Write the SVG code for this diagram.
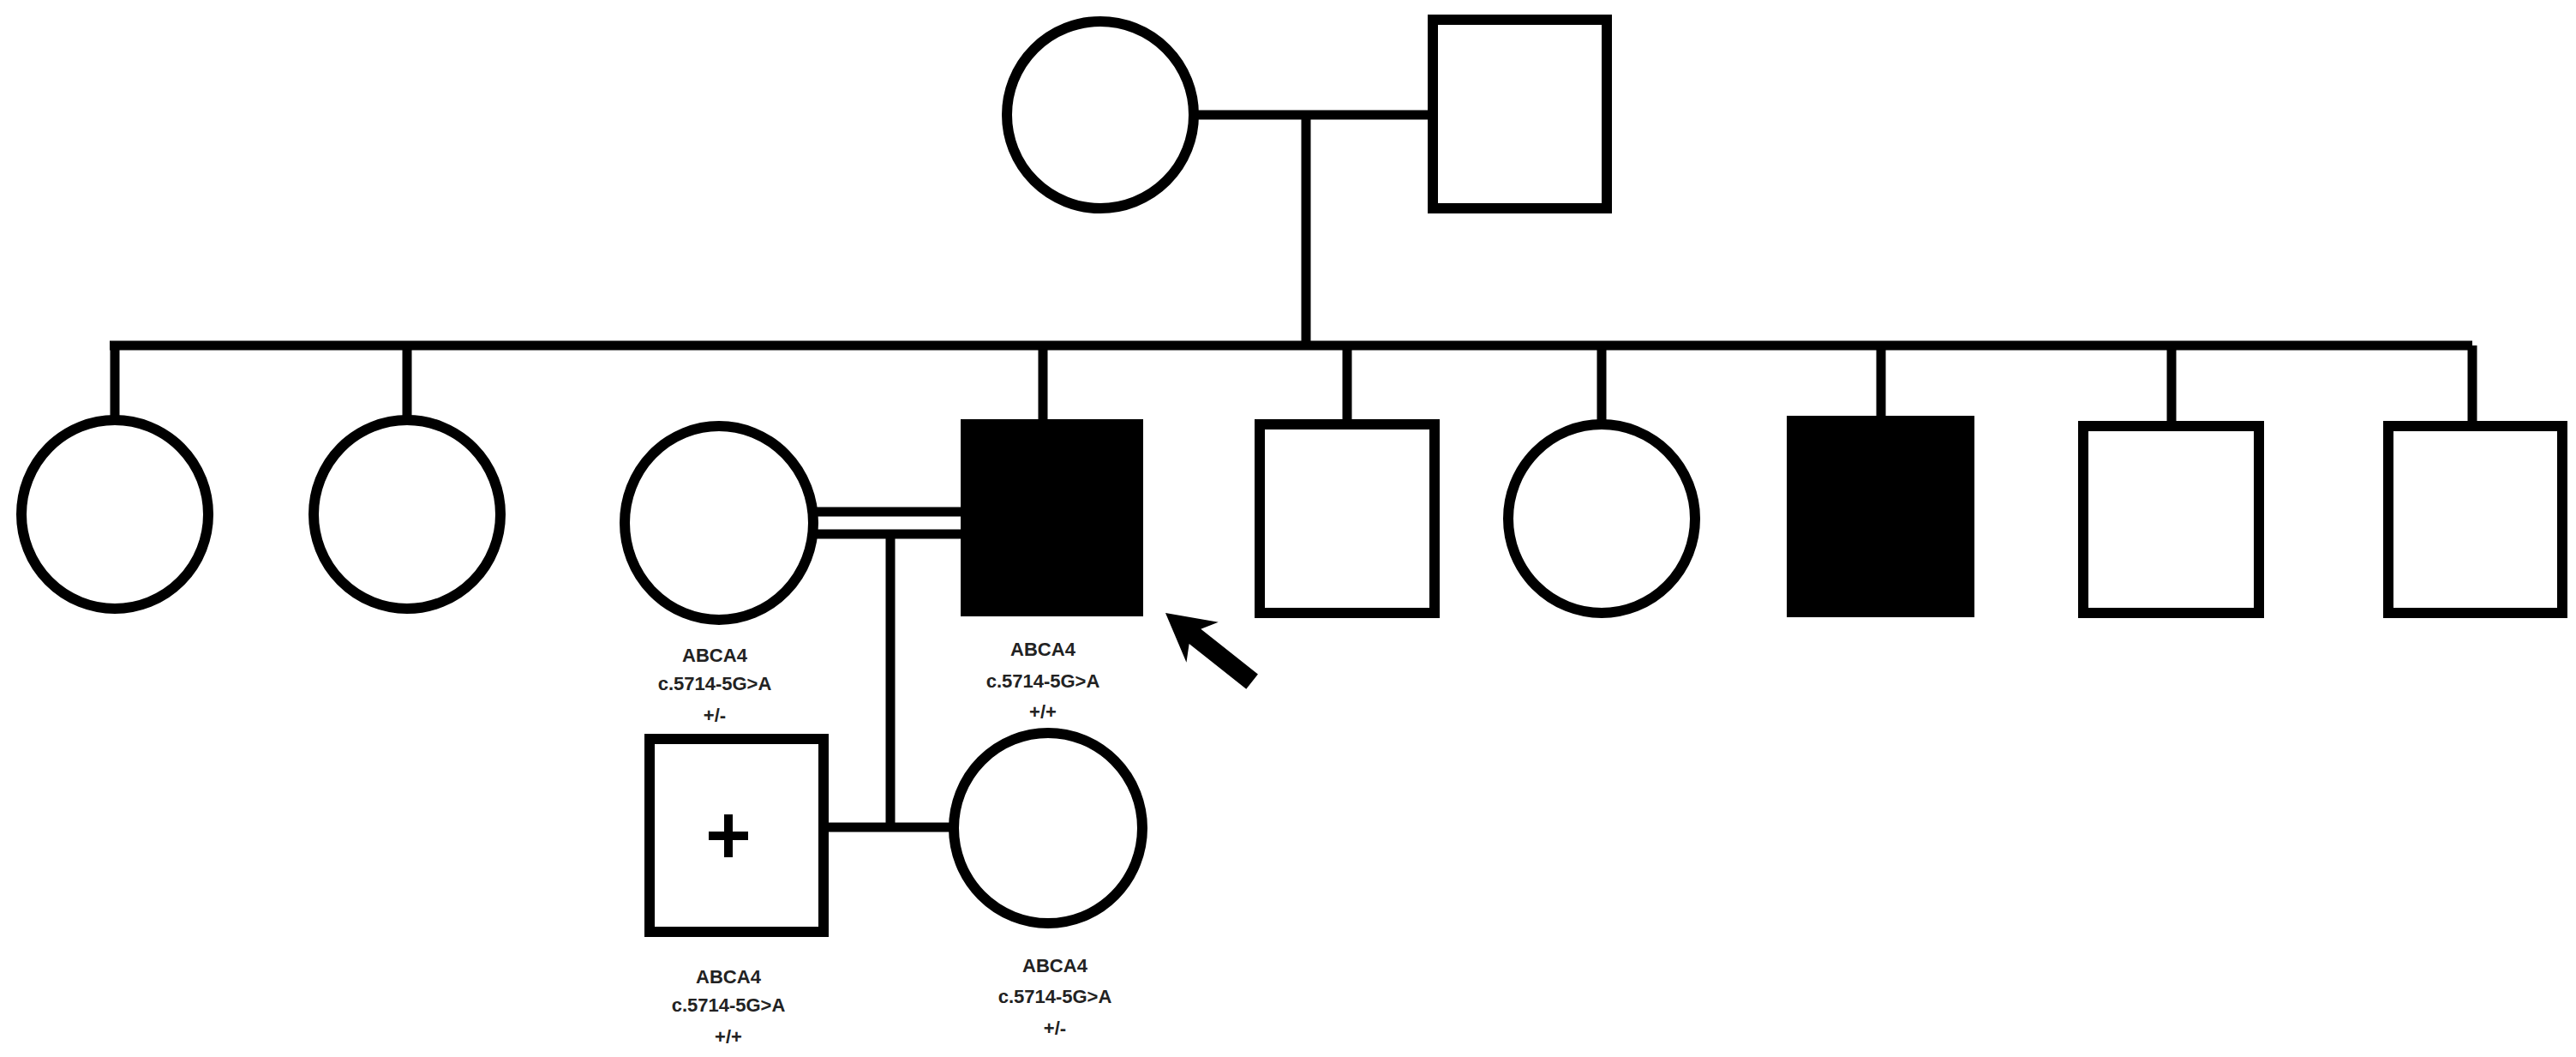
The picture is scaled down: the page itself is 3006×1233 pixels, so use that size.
<svg xmlns="http://www.w3.org/2000/svg" width="3006" height="1233" viewBox="0 0 3006 1233">
<style>
.n{fill:#fff;stroke:#000;stroke-width:12}
.a{fill:#000;stroke:#000;stroke-width:12}
.l{stroke:#000;stroke-width:11;fill:none}
.t{font-family:"Liberation Sans",Arial,sans-serif;font-size:22px;font-weight:bold;fill:#222;text-anchor:middle}
</style>
<rect width="3006" height="1233" fill="#fff"/>
<g id="connectors">
<path class="l" d="M1396 134H1672M1524 134V403"/>
<path class="l" stroke-width="13" d="M128 403H2885"/>
<path class="l" d="M134 403V491M475 403V491M1217 403V489M1572 403V495M1869 403V496M2195 403V491M2534 403V495M2885 403V495"/>
<path class="l" d="M943 597H1127M943 623H1127M1039 623V965M961 965H1110"/>
</g>
<g id="gf"><ellipse class="n" cx="1284" cy="134" rx="109" ry="109"/></g>
<g id="gm"><rect class="n" x="1672" y="23" width="203" height="220"/></g>
<g id="s1"><ellipse class="n" cx="134" cy="600" rx="109" ry="110"/></g>
<g id="s2"><ellipse class="n" cx="475" cy="600" rx="109" ry="110"/></g>
<g id="s3"><ellipse class="n" cx="839" cy="610" rx="110" ry="113"/>
<text class="t" x="834" y="772">ABCA4</text><text class="t" x="834" y="805">c.5714-5G&gt;A</text><text class="t" x="834" y="842">+/-</text></g>
<g id="proband"><rect class="a" x="1127" y="495" width="201" height="218"/>
<text class="t" x="1217" y="765">ABCA4</text><text class="t" x="1217" y="802">c.5714-5G&gt;A</text><text class="t" x="1217" y="838">+/+</text></g>
<g id="s5"><rect class="n" x="1470" y="495" width="204" height="220"/></g>
<g id="s6"><ellipse class="n" cx="1869" cy="605" rx="109" ry="110"/></g>
<g id="s7"><rect class="a" x="2091" y="491" width="207" height="223"/></g>
<g id="s8"><rect class="n" x="2431" y="497" width="205" height="218"/></g>
<g id="s9"><rect class="n" x="2787" y="497" width="203" height="218"/></g>
<g id="arrow"><polygon fill="#000" points="0,0 -55,-30 -44,-11 -129,-11 -129,11 -44,11 -55,30" transform="translate(1360,715) rotate(218.4)"/></g>
<g id="son"><rect class="n" x="758" y="862" width="203" height="225"/>
<path stroke="#000" stroke-width="10" d="M827 975H873M850 950V1000"/>
<text class="t" x="850" y="1147">ABCA4</text><text class="t" x="850" y="1180">c.5714-5G&gt;A</text><text class="t" x="850" y="1217">+/+</text></g>
<g id="daughter"><ellipse class="n" cx="1223" cy="966" rx="110" ry="111"/>
<text class="t" x="1231" y="1134">ABCA4</text><text class="t" x="1231" y="1170">c.5714-5G&gt;A</text><text class="t" x="1231" y="1207">+/-</text></g>
</svg>
